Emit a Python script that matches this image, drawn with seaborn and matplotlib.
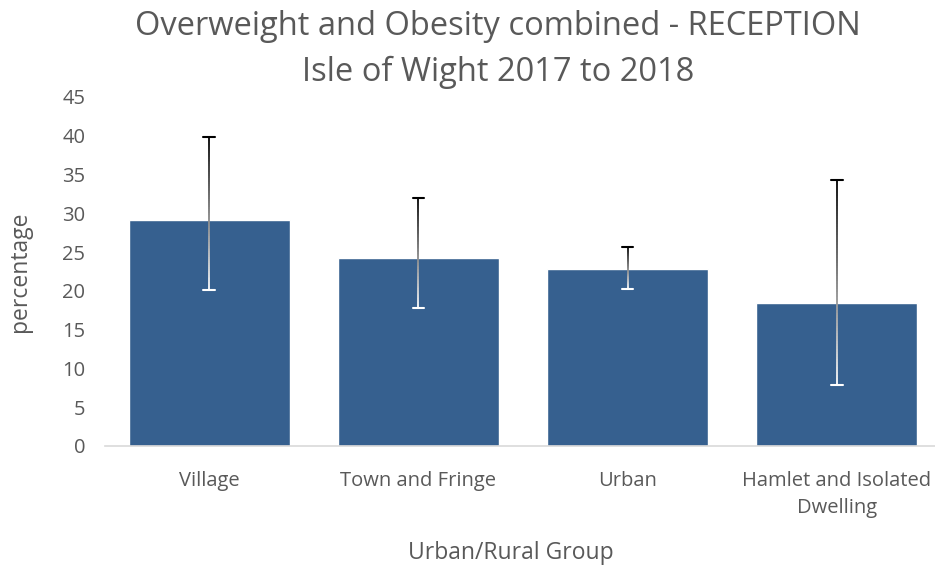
import numpy as np
import pandas as pd
import seaborn as sns
from matplotlib import pyplot as plt
from matplotlib.collections import LineCollection

groups = ["Village", "Town and Fringe", "Urban", "Hamlet and Isolated\nDwelling"]
values = [29.2, 24.3, 22.8, 18.4]
lower = [20.1, 17.8, 20.2, 7.8]
upper = [39.8, 32.0, 25.7, 34.3]

BAR = "#36608F"
TXT = "#595959"


def main():
    sns.set_style("white")
    plt.rcParams["font.family"] = ["Open Sans", "DejaVu Sans"]

    df = pd.DataFrame({"group": groups, "value": values})

    fig = plt.figure(figsize=(9.35, 5.68), dpi=100)
    ax = fig.add_axes([0.112, 0.2148, 0.888, 0.6145])
    sns.barplot(data=df, x="group", y="value", color=BAR, width=0.77,
                saturation=1, ax=ax)

    # error bars fading from black at the top to white at the bottom
    for i, (lo, hi) in enumerate(zip(lower, upper)):
        ys = np.linspace(lo, hi, 80)
        segs = [[(i, a), (i, b)] for a, b in zip(ys[:-1], ys[1:])]
        shade = np.linspace(1.0, 0.0, len(segs))
        cols = [(s, s, s) for s in shade]
        ax.add_collection(LineCollection(segs, colors=cols, linewidths=1.3, zorder=3))
        ax.plot([i - 0.028, i + 0.028], [hi, hi], color="black", lw=1.5, zorder=4)
        ax.plot([i - 0.028, i + 0.028], [lo, lo], color="white", lw=1.5, zorder=4)

    ax.set_xlim(-0.5, 3.47)
    ax.set_ylim(0, 45)
    ax.set_yticks(range(0, 50, 5))
    sns.despine(ax=ax, left=True, top=True, right=True)
    ax.spines["bottom"].set_color("#d9d9d9")
    ax.spines["bottom"].set_linewidth(1.2)
    ax.tick_params(axis="y", length=0, labelsize=14.5, colors=TXT, pad=14)
    ax.tick_params(axis="x", length=0, labelsize=14.5, colors=TXT, pad=18)
    for lab in ax.get_xticklabels():
        lab.set_linespacing(1.45)

    ax.set_xlabel("Urban/Rural Group", fontsize=16.5, color=TXT, va="center")
    ax.xaxis.set_label_coords(0.489, -0.307)
    ax.set_ylabel("percentage", fontsize=16.5, color=TXT, labelpad=22)
    fig.text(0.533, 0.982,
             "Overweight and Obesity combined - RECEPTION\nIsle of Wight 2017 to 2018",
             fontsize=23.5, color=TXT, ha="center", va="top", linespacing=1.5)

    plt.savefig("out.png", dpi=100)
    plt.close()


if __name__ == "__main__":
    main()
